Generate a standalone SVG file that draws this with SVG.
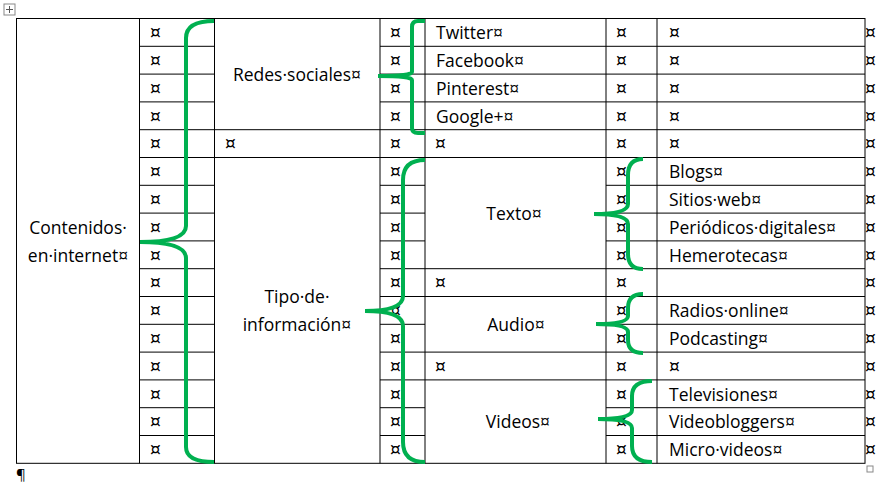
<svg xmlns="http://www.w3.org/2000/svg" width="887" height="486" viewBox="0 0 887 486">
<style>
text{font-family:"Open Sans","Liberation Sans",Arial,sans-serif;font-size:17.5px;fill:#000}
.m text{font-family:"DejaVu Sans",sans-serif;font-size:17px}
.c{text-anchor:middle}
line,rect.t{stroke:#000;stroke-width:1;fill:none}
.b{fill:none;stroke:#00B050;stroke-width:4;stroke-linecap:butt}
</style>
<rect x="0" y="0" width="887" height="486" fill="#fff"/>
<g id="table">
<rect class="t" x="16.5" y="18.5" width="848.5" height="444.8"/>
<line x1="139.5" y1="18.5" x2="139.5" y2="463.3"/>
<line x1="214.5" y1="18.5" x2="214.5" y2="463.3"/>
<line x1="380" y1="18.5" x2="380" y2="463.3"/>
<line x1="425" y1="18.5" x2="425" y2="463.3"/>
<line x1="606" y1="18.5" x2="606" y2="463.3"/>
<line x1="657" y1="18.5" x2="657" y2="463.3"/>
<g id="rows">
<path d="M139.5 46.3H214.5M139.5 74.1H214.5M139.5 101.9H214.5M139.5 129.7H214.5M139.5 157.5H214.5M139.5 185.3H214.5M139.5 213.1H214.5M139.5 240.9H214.5M139.5 268.7H214.5M139.5 296.5H214.5M139.5 324.3H214.5M139.5 352.1H214.5M139.5 379.9H214.5M139.5 407.7H214.5M139.5 435.5H214.5" stroke="#000" fill="none"/>
<path d="M380 46.3H425M380 74.1H425M380 101.9H425M380 129.7H425M380 157.5H425M380 185.3H425M380 213.1H425M380 240.9H425M380 268.7H425M380 296.5H425M380 324.3H425M380 352.1H425M380 379.9H425M380 407.7H425M380 435.5H425" stroke="#000" fill="none"/>
<path d="M606 46.3H865M606 74.1H865M606 101.9H865M606 129.7H865M606 157.5H865M606 185.3H865M606 213.1H865M606 240.9H865M606 268.7H865M606 296.5H865M606 324.3H865M606 352.1H865M606 379.9H865M606 407.7H865M606 435.5H865" stroke="#000" fill="none"/>
<path d="M214.5 129.7H380M214.5 157.5H380M425 46.3H606M425 74.1H606M425 101.9H606M425 129.7H606M425 157.5H606M425 268.7H606M425 296.5H606M425 352.1H606M425 379.9H606" stroke="#000" fill="none"/>
</g>
</g>
<g id="marks" class="m">
<text x="150" y="38">¤</text><text x="150" y="66">¤</text><text x="150" y="94">¤</text><text x="150" y="122">¤</text><text x="150" y="149">¤</text><text x="150" y="177">¤</text><text x="150" y="205">¤</text><text x="150" y="233">¤</text><text x="150" y="261">¤</text><text x="150" y="288">¤</text><text x="150" y="316">¤</text><text x="150" y="344">¤</text><text x="150" y="372">¤</text><text x="150" y="400">¤</text><text x="150" y="427">¤</text><text x="150" y="455">¤</text>
<text x="390" y="38">¤</text><text x="390" y="66">¤</text><text x="390" y="94">¤</text><text x="390" y="122">¤</text><text x="390" y="149">¤</text><text x="390" y="177">¤</text><text x="390" y="205">¤</text><text x="390" y="233">¤</text><text x="390" y="261">¤</text><text x="390" y="288">¤</text><text x="390" y="316">¤</text><text x="390" y="344">¤</text><text x="390" y="372">¤</text><text x="390" y="400">¤</text><text x="390" y="427">¤</text><text x="390" y="455">¤</text>
<text x="616" y="38">¤</text><text x="616" y="66">¤</text><text x="616" y="94">¤</text><text x="616" y="122">¤</text><text x="616" y="149">¤</text><text x="616" y="177">¤</text><text x="616" y="205">¤</text><text x="616" y="233">¤</text><text x="616" y="261">¤</text><text x="616" y="288">¤</text><text x="616" y="316">¤</text><text x="616" y="344">¤</text><text x="616" y="372">¤</text><text x="616" y="400">¤</text><text x="616" y="427">¤</text><text x="616" y="455">¤</text>
<text x="865" y="38">¤</text><text x="865" y="66">¤</text><text x="865" y="94">¤</text><text x="865" y="122">¤</text><text x="865" y="149">¤</text><text x="865" y="177">¤</text><text x="865" y="205">¤</text><text x="865" y="233">¤</text><text x="865" y="261">¤</text><text x="865" y="288">¤</text><text x="865" y="316">¤</text><text x="865" y="344">¤</text><text x="865" y="372">¤</text><text x="865" y="400">¤</text><text x="865" y="427">¤</text><text x="865" y="455">¤</text>
<text x="669" y="66">¤</text><text x="669" y="94">¤</text><text x="669" y="122">¤</text><text x="669" y="38">¤</text><text x="669" y="149">¤</text><text x="669" y="372">¤</text>
<text x="225" y="149">¤</text><text x="435" y="149">¤</text><text x="435" y="288">¤</text><text x="435" y="372">¤</text>
</g>
<g id="labels">
<text class="c" x="78" y="234">Contenidos·</text><text class="c" x="78" y="262">en·internet¤</text>
<text class="c" x="297" y="81">Redes·sociales¤</text>
<text class="c" x="297" y="303">Tipo·de·</text><text class="c" x="297" y="331">información¤</text>
<text x="436" y="39">Twitter¤</text><text x="436" y="67">Facebook¤</text><text x="436" y="95">Pinterest¤</text><text x="436" y="123">Google+¤</text>
<text class="c" x="514" y="220">Texto¤</text><text class="c" x="516" y="331">Audio¤</text><text class="c" x="518" y="428">Videos¤</text>
<text x="669" y="178">Blogs¤</text><text x="669" y="206">Sitios·web¤</text><text x="669" y="234">Periódicos·digitales¤</text><text x="669" y="262">Hemerotecas¤</text>
<text x="669" y="317">Radios·online¤</text><text x="669" y="345">Podcasting¤</text>
<text x="669" y="401">Televisiones¤</text><text x="669" y="428">Videobloggers¤</text><text x="669" y="456">Micro·videos¤</text>
</g>
<g id="connectors">
<path class="b" d="M214 21Q186 21 186 38V226Q186 242 140 242Q186 242 186 258V447Q186 462 214 462"/>
<path class="b" d="M425 21H418Q412 21 412 27V72Q412 76 378 76Q412 76 412 80V128Q412 133 418 133H425"/>
<path class="b" d="M425 160Q403 160 403 180V296Q403 311 365 311Q403 311 403 326V442Q403 462 425 462"/>
<path class="b" d="M643 159Q628 159 628 175V204Q628 214 594 214Q628 214 628 224V254Q628 269 643 269"/>
<path class="b" d="M643 294Q628 294 628 308V316Q628 324 596 324Q628 324 628 332V340Q628 353 643 353"/>
<path class="b" d="M652 381Q632 381 632 396V410Q632 419 598 419Q632 419 632 428V446Q632 462 652 462"/>
</g>
<g id="chrome">
<rect x="4" y="4" width="11" height="11" fill="#fff" stroke="#888"/>
<path d="M9.5 6V13M6 9.5H13" stroke="#555"/>
<rect x="867" y="466" width="6" height="6" fill="#fff" stroke="#888"/>
<text x="16" y="480" style="font-size:15px">¶</text>
</g>
</svg>
